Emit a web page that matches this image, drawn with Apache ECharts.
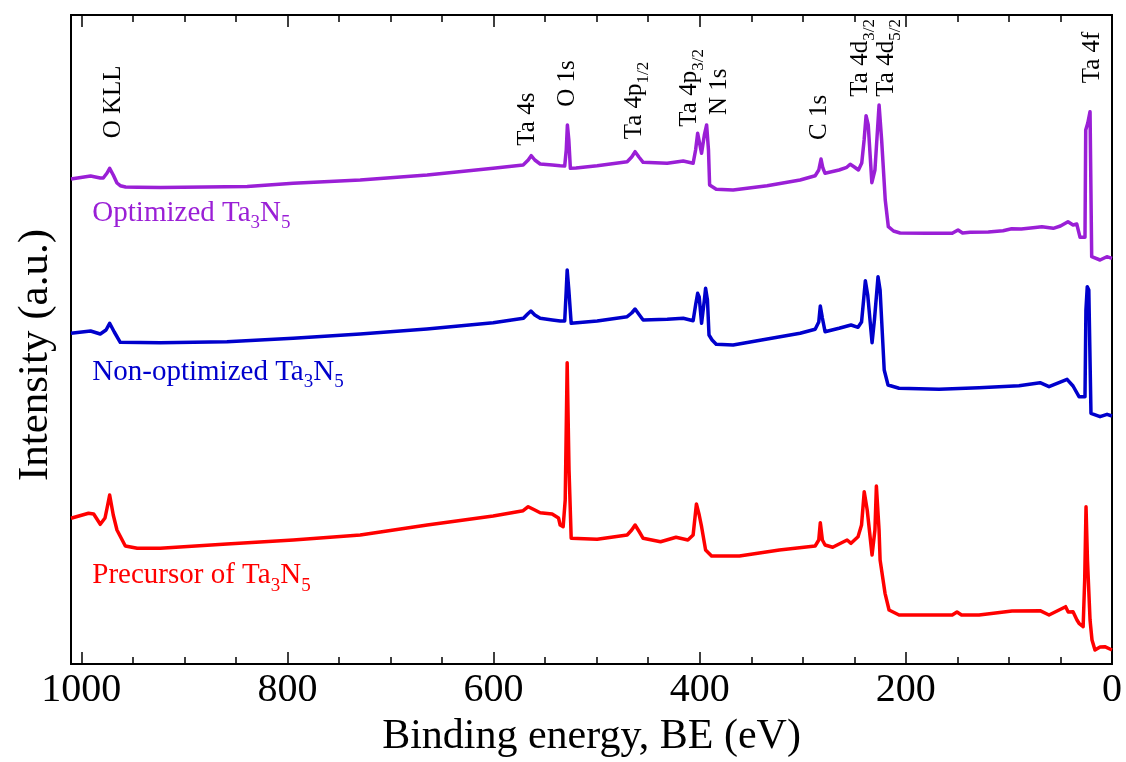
<!DOCTYPE html>
<html>
<head>
<meta charset="utf-8">
<title>XPS survey spectra of Ta3N5</title>
<script src="https://cdn.jsdelivr.net/npm/echarts@6/dist/echarts.min.js"></script>
<style>
  html, body { margin: 0; padding: 0; background: #ffffff; }
  #chart { width: 1126px; height: 762px; }
</style>
</head>
<body>
<div id="chart"></div>
<script>
const FONT = '"Liberation Serif", "Times New Roman", Times, serif';

// ---- Optimized Ta3N5 (binding energy in eV, intensity in a.u., offset) ----
const optimizedBE = [1010, 991, 981.6, 978.7, 975, 972.5, 969, 965.4, 962.2, 957, 945.7, 923, 880, 839, 794.4, 729.4, 664.4, 600.4, 571.3, 566.4, 563.5, 560, 554.8, 543, 535.4, 531, 529.5, 528.4, 527, 525.5, 520, 499.5, 470.4, 466, 462.7, 459, 454.9, 431.6, 416, 406.4, 404, 402, 400.5, 398.2, 395.5, 393.3, 391.5, 390.4, 384, 367.6, 334.6, 302.6, 288, 284.5, 282.3, 280.5, 278.4, 264.8, 257.3, 254, 250, 246, 242.8, 240.5, 238.6, 236.5, 233, 230, 226, 223.5, 220, 217, 212, 205.6, 180, 155, 149.4, 145, 137.7, 120, 105.7, 97.4, 88, 76.6, 68, 57, 50, 42.7, 37.8, 34.2, 31, 26.2, 25.5, 23.5, 21.3, 19.7, 11.6, 5, 0];
const optimizedInt = [485, 488, 486, 486, 491, 495.7, 489, 481, 478.3, 477, 476.7, 476.5, 477, 477.5, 480.7, 484, 489, 495.7, 499, 504, 508.3, 504, 500, 499, 498.3, 498, 514, 539, 524, 495.7, 496, 498.3, 502.3, 507, 512.3, 507, 501.7, 500.7, 503, 500.7, 514, 530.7, 529, 510.7, 529, 539, 514, 479, 474.7, 474, 478.3, 484, 488.3, 494, 505, 496, 490.7, 494, 496.7, 499.7, 497, 494, 501, 524, 548.3, 539, 481.3, 494, 559, 524, 464, 437.3, 433, 431, 430.7, 430.7, 434, 431, 431.7, 432, 433.3, 435.3, 435, 436.3, 437.3, 435.7, 438, 442.3, 439, 440, 426.7, 426.7, 534, 541, 552.3, 407.3, 404, 407.3, 405.7];

// ---- Non-optimized Ta3N5 ----
const nonOptimizedBE = [1010, 991, 981.6, 976, 972.5, 968, 962.2, 923.4, 858.7, 794.4, 729.4, 664.7, 600.4, 571, 567, 563.8, 560, 554.8, 543, 535.4, 531, 529.5, 528.6, 527, 524.7, 499.5, 470.4, 466, 462.7, 458.5, 454.9, 431.6, 416, 406.4, 404, 402, 400.5, 398.2, 395.5, 394.3, 392.5, 391, 388, 384, 367.6, 340, 302.6, 288, 284.5, 283, 281, 278.4, 264.8, 253.2, 246.4, 243, 241, 239.3, 237, 232.8, 230.5, 227, 225, 221, 217.3, 206.6, 167.8, 129, 90.2, 69.8, 61.1, 43.6, 37.8, 32, 26.2, 25.3, 24, 22.5, 20.4, 11.6, 4.8, 0];
const nonOptimizedInt = [330.7, 333, 330, 334, 340.7, 332, 321.7, 321.3, 322.3, 325.7, 330, 335, 341.3, 345.7, 350, 353, 349, 345.7, 344, 343, 343, 374, 394, 374, 340.7, 343, 347.3, 351, 355, 349, 344, 344.7, 345.7, 343.3, 359, 370.7, 367, 340.7, 364, 375.7, 364, 329, 324, 319.7, 319, 324, 330.7, 334.7, 342, 358, 346, 332.3, 335.7, 339, 336.7, 342, 364, 383.3, 369, 321.3, 344, 387.3, 374, 294, 279, 275.7, 274.7, 276.3, 278.3, 281.3, 277.3, 284.7, 278, 267.3, 267.3, 354, 377.3, 374, 250.7, 247.3, 249.7, 248];

// ---- Precursor of Ta3N5 ----
const precursorBE = [1010, 993, 988, 981.6, 977, 975, 972.5, 969, 965.4, 957.3, 945.7, 923.4, 858.7, 794.4, 729.4, 664.4, 600.4, 571.3, 566.4, 560, 554.8, 543.2, 537, 535.4, 532.5, 530.5, 528.6, 526.8, 524.7, 499.5, 470.4, 466, 462.7, 458.5, 454.9, 438, 423, 411.5, 406.4, 403.2, 400.5, 398.2, 394.3, 388.5, 361.5, 322.7, 288, 284.5, 283, 281, 278.4, 271, 257, 253.2, 246.4, 243, 240.4, 237.5, 232.8, 230, 228.6, 226, 225, 220.2, 216.3, 206.6, 155, 150.4, 146, 129, 97, 69.8, 61.1, 45, 42.5, 37.8, 34, 32, 28, 26.5, 25.2, 23.8, 21.3, 19.4, 16.5, 11.6, 7, 0];
const precursorInt = [145.7, 150.7, 150, 139.7, 146, 156, 169, 149, 134, 118, 115.7, 115.7, 120, 124, 129, 139, 148, 153.3, 157.3, 154, 151.3, 150, 146, 139, 137.3, 164, 301.3, 194, 125.7, 124.7, 129, 134, 139, 132, 125.7, 122.3, 126.7, 124, 129, 160, 149, 137.3, 114, 108, 108, 114, 118, 124, 141.3, 124, 119, 116.7, 124, 120.7, 127.3, 139, 172.3, 154, 109, 134, 178, 134, 104, 70.7, 54, 49, 49, 52, 49, 49, 53, 53.3, 49, 57.3, 52, 52.3, 44, 40.7, 37.3, 84, 157.3, 104, 44, 24, 14, 17, 17.3, 14];

// ---- axis ticks ----
const majorTicks = [0, 200, 400, 600, 800, 1000];
const minorTicks = [50, 100, 150, 250, 300, 350, 450, 500, 550, 650, 700, 750, 850, 900, 950];

// ---- peak assignments: label text, binding energy, label foot (a.u.) ----
const peakText = ['O KLL', 'Ta 4s', 'O 1s', 'Ta 4p{s|1/2}', 'Ta 4p{s|3/2}', 'N 1s', 'C 1s', 'Ta 4d{s|3/2}', 'Ta 4d{s|5/2}', 'Ta 4f'];
const peakBE = [969, 567, 528, 463.6, 410, 381, 284, 244, 219, 19.4];
const peakFoot = [525.7, 518.3, 557.3, 524.7, 537.3, 549, 524, 567.3, 567.3, 580.7];

// ---- spectrum names ----
const sampleNames = ['Optimized Ta{s|3}N{s|5}', 'Non-optimized Ta{s|3}N{s|5}', 'Precursor of Ta{s|3}N{s|5}'];
const sampleColors = ['#9A1FD6', '#0000CC', '#FF0000'];
const sampleLabelBE = [989.3, 989.3, 989.3];
const sampleLabelInt = [451, 292, 88.5];

function pairs(xs, ys) { return xs.map((x, i) => [x, ys[i]]); }

const chart = echarts.init(document.getElementById('chart'), null, { renderer: 'canvas' });

const xBase = {
  type: 'value', min: 0, max: 1010, inverse: true,
  splitLine: { show: false },
  axisLine: { show: true, onZero: false, lineStyle: { color: '#000', width: 2 } }
};
const tickStyle = { color: '#000', width: 1.5 };

function lineSeries(name, be, vals, color) {
  return {
    type: 'line', name: name, data: pairs(be, vals),
    xAxisIndex: 0, yAxisIndex: 0,
    symbol: 'none', showSymbol: false, animation: false,
    lineStyle: { color: color, width: 3.5, join: 'round' },
    z: 3
  };
}

chart.setOption({
  animation: false,
  backgroundColor: '#ffffff',
  grid: { left: 71, right: 14, top: 15, bottom: 98, containLabel: false, outerBoundsMode: 'none' },
  xAxis: [
    Object.assign({}, xBase, {
      position: 'bottom',
      axisTick: { show: true, inside: true, length: 12, lineStyle: tickStyle, customValues: majorTicks },
      axisLabel: { show: true, customValues: majorTicks, formatter: v => String(v),
        fontFamily: FONT, fontSize: 40, color: '#000', margin: 6 },
      name: 'Binding energy, BE (eV)', nameLocation: 'middle', nameGap: 52,
      nameTextStyle: { fontFamily: FONT, fontSize: 42, color: '#000' }
    }),
    Object.assign({}, xBase, {
      position: 'bottom',
      axisTick: { show: true, inside: true, length: 7, lineStyle: tickStyle, customValues: minorTicks },
      axisLabel: { show: false }
    }),
    Object.assign({}, xBase, {
      position: 'top',
      axisTick: { show: true, inside: true, length: 12, lineStyle: tickStyle, customValues: majorTicks },
      axisLabel: { show: false }
    }),
    Object.assign({}, xBase, {
      position: 'top',
      axisTick: { show: true, inside: true, length: 7, lineStyle: tickStyle, customValues: minorTicks },
      axisLabel: { show: false }
    })
  ],
  yAxis: [
    { type: 'value', min: 0, max: 649, position: 'left',
      axisLine: { show: true, onZero: false, lineStyle: { color: '#000', width: 2 } },
      axisTick: { show: false }, axisLabel: { show: false }, splitLine: { show: false } },
    { type: 'value', min: 0, max: 649, position: 'right',
      axisLine: { show: true, onZero: false, lineStyle: { color: '#000', width: 2 } },
      axisTick: { show: false }, axisLabel: { show: false }, splitLine: { show: false } }
  ],
  series: [
    lineSeries('Precursor of Ta3N5', precursorBE, precursorInt, sampleColors[2]),
    lineSeries('Non-optimized Ta3N5', nonOptimizedBE, nonOptimizedInt, sampleColors[1]),
    lineSeries('Optimized Ta3N5', optimizedBE, optimizedInt, sampleColors[0])
  ]
});

// annotations placed through the axis scales
const finder = { xAxisIndex: 0, yAxisIndex: 0 };
const graphics = [];

peakText.forEach((t, i) => {
  const p = chart.convertToPixel(finder, [peakBE[i], peakFoot[i]]);
  graphics.push({
    type: 'text', x: p[0], y: p[1], rotation: Math.PI / 2, z: 10,
    style: {
      text: t, fill: '#000',
      fontFamily: FONT, fontSize: 25, lineHeight: 28,
      align: 'left', verticalAlign: 'middle',
      textAlign: 'left', textVerticalAlign: 'middle',
      rich: {
        s: { fontFamily: FONT, fontSize: 17, lineHeight: 17, verticalAlign: 'top', padding: [15, 0, 0, 0], fill: '#000' }
      }
    }
  });
});

sampleNames.forEach((t, i) => {
  const p = chart.convertToPixel(finder, [sampleLabelBE[i], sampleLabelInt[i]]);
  graphics.push({
    type: 'text', x: p[0], y: p[1], z: 10,
    style: {
      text: t, fill: sampleColors[i],
      fontFamily: FONT, fontSize: 29, lineHeight: 30,
      align: 'left', verticalAlign: 'middle',
      textAlign: 'left', textVerticalAlign: 'middle',
      rich: {
        s: { fontFamily: FONT, fontSize: 19, lineHeight: 19, verticalAlign: 'top', padding: [16, 0, 0, 0], fill: sampleColors[i] }
      }
    }
  });
});

// vertical axis title
graphics.push({
  type: 'text', x: 36, y: 355, rotation: Math.PI / 2, z: 10,
  style: {
    text: 'Intensity (a.u.)', fill: '#000',
    fontFamily: FONT, fontSize: 43,
    align: 'center', verticalAlign: 'middle',
    textAlign: 'center', textVerticalAlign: 'middle'
  }
});

chart.setOption({ graphic: graphics });
</script>
</body>
</html>
